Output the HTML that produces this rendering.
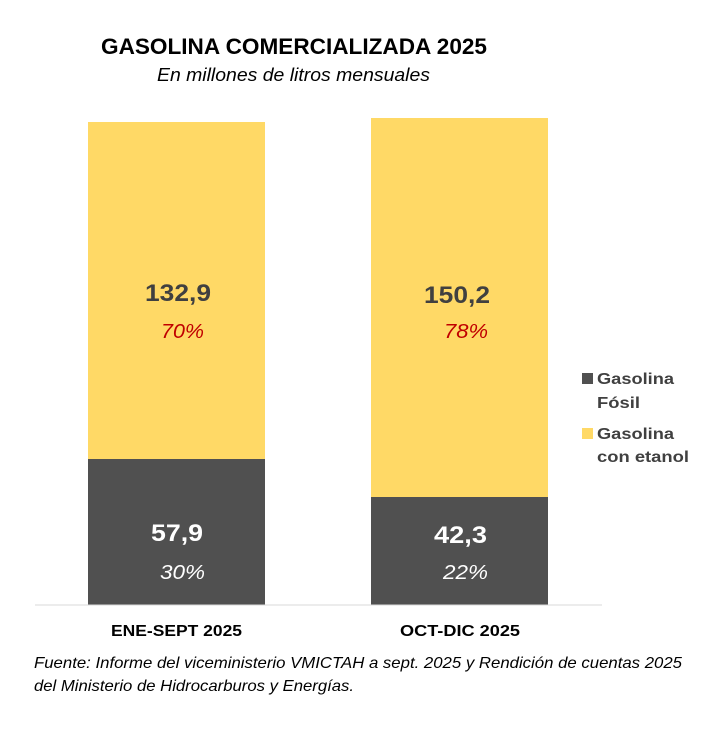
<!DOCTYPE html>
<html><head><meta charset="utf-8"><style>
body{margin:0;background:#fff;}
svg text{font-family:"Liberation Sans",sans-serif;}
</style></head><body>
<svg width="727" height="728" xmlns="http://www.w3.org/2000/svg">
<rect width="727" height="728" fill="#fff"/>
<text x="101" y="54" textLength="386" lengthAdjust="spacingAndGlyphs" font-size="22" font-weight="bold" fill="#000">GASOLINA COMERCIALIZADA 2025</text>
<text x="157" y="81" textLength="273" lengthAdjust="spacingAndGlyphs" font-size="18" font-style="italic" fill="#000">En millones de litros mensuales</text>
<rect x="88" y="122" width="177" height="337" fill="#FFD966"/>
<rect x="88" y="459" width="177" height="146" fill="#505050"/>
<rect x="371" y="118" width="177" height="379" fill="#FFD966"/>
<rect x="371" y="497" width="177" height="108" fill="#505050"/>
<line x1="35" y1="605" x2="602" y2="605" stroke="#d9d9d9" stroke-width="1"/>
<text x="145" y="301" textLength="66" lengthAdjust="spacingAndGlyphs" font-size="24" font-weight="bold" fill="#404040">132,9</text>
<text x="161" y="338" textLength="43" lengthAdjust="spacingAndGlyphs" font-size="20" font-style="italic" fill="#C00000">70%</text>
<text x="151" y="541" textLength="52" lengthAdjust="spacingAndGlyphs" font-size="24" font-weight="bold" fill="#fff">57,9</text>
<text x="160" y="579" textLength="45" lengthAdjust="spacingAndGlyphs" font-size="20" font-style="italic" fill="#fff">30%</text>
<text x="424" y="303" textLength="66" lengthAdjust="spacingAndGlyphs" font-size="24" font-weight="bold" fill="#404040">150,2</text>
<text x="444" y="338" textLength="44" lengthAdjust="spacingAndGlyphs" font-size="20" font-style="italic" fill="#C00000">78%</text>
<text x="434" y="543" textLength="53" lengthAdjust="spacingAndGlyphs" font-size="24" font-weight="bold" fill="#fff">42,3</text>
<text x="443" y="579" textLength="45" lengthAdjust="spacingAndGlyphs" font-size="20" font-style="italic" fill="#fff">22%</text>
<text x="111" y="636" textLength="131" lengthAdjust="spacingAndGlyphs" font-size="16" font-weight="bold" fill="#000">ENE-SEPT 2025</text>
<text x="400" y="636" textLength="120" lengthAdjust="spacingAndGlyphs" font-size="16" font-weight="bold" fill="#000">OCT-DIC 2025</text>
<rect x="582" y="373" width="11" height="11" fill="#505050"/>
<text x="597" y="384" textLength="77" lengthAdjust="spacingAndGlyphs" font-size="16" font-weight="bold" fill="#404040">Gasolina</text>
<text x="597" y="408" textLength="43" lengthAdjust="spacingAndGlyphs" font-size="16" font-weight="bold" fill="#404040">Fósil</text>
<rect x="582" y="428" width="11" height="11" fill="#FFD966"/>
<text x="597" y="439" textLength="77" lengthAdjust="spacingAndGlyphs" font-size="16" font-weight="bold" fill="#404040">Gasolina</text>
<text x="597" y="462" textLength="92" lengthAdjust="spacingAndGlyphs" font-size="16" font-weight="bold" fill="#404040">con etanol</text>
<text x="34" y="668" textLength="648" lengthAdjust="spacingAndGlyphs" font-size="16" font-style="italic" fill="#000">Fuente: Informe del viceministerio VMICTAH a sept. 2025 y Rendición de cuentas 2025</text>
<text x="34" y="691" textLength="320" lengthAdjust="spacingAndGlyphs" font-size="16" font-style="italic" fill="#000">del Ministerio de Hidrocarburos y Energías.</text>
</svg>
</body></html>
